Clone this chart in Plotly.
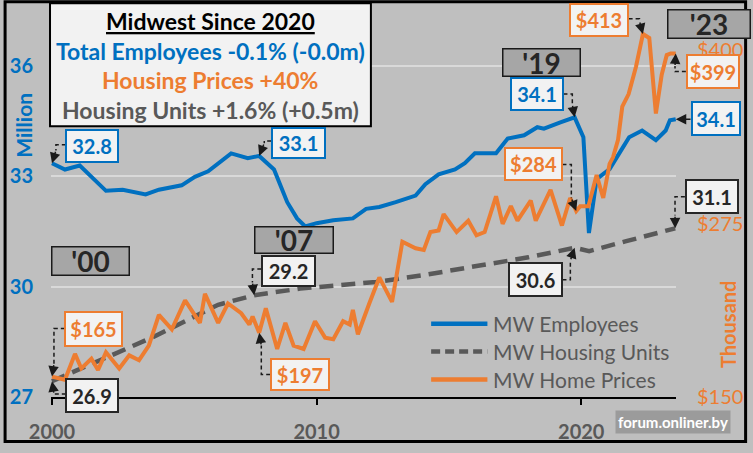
import plotly.graph_objects as go

# ---------------- data ----------------
emp_x = [2000.0, 2000.49, 2001.05, 2002.04, 2002.67, 2003.54, 2004.04, 2004.9, 2005.4, 2005.9,
         2006.77, 2007.4, 2007.83, 2008.39, 2008.89, 2009.26, 2009.57, 2010.0, 2010.63, 2011.37,
         2011.87, 2012.37, 2012.99, 2013.74, 2014.11, 2014.61, 2015.23, 2015.6, 2015.98, 2016.78,
         2017.22, 2017.84, 2018.34, 2018.59, 2019.21, 2019.75, 2020.08, 2020.29, 2020.58, 2021.07,
         2021.58, 2021.81, 2022.3, 2022.82, 2023.19, 2023.35, 2023.57]
emp_y = [32.86, 32.69, 32.80, 32.11, 32.14, 32.01, 32.14, 32.26, 32.49, 32.64,
         33.13, 33.00, 33.06, 32.69, 31.80, 31.36, 31.14, 31.23, 31.31, 31.36,
         31.62, 31.67, 31.80, 31.98, 32.29, 32.56, 32.69, 32.86, 33.13, 33.13,
         33.53, 33.62, 33.84, 33.80, 33.97, 34.11, 33.57, 30.96, 32.43, 32.70,
         33.30, 33.57, 33.75, 33.49, 33.75, 34.03, 34.06]

units_x = [2000.0, 2002.3, 2003.79, 2005.16, 2006.28, 2007.64, 2009.38, 2012.25, 2014.0,
           2016.1, 2018.0, 2019.75, 2020.3, 2021.7, 2023.55]
units_y = [26.93, 27.64, 28.12, 28.61, 29.01, 29.27, 29.45, 29.63, 29.81,
           30.07, 30.30, 30.56, 30.47, 30.74, 31.09]

price_x = [2000.0, 2000.49, 2000.87, 2001.11, 2001.49, 2001.74, 2002.04, 2002.54, 2002.92, 2003.29,
           2003.66, 2004.04, 2004.53, 2005.03, 2005.59, 2005.78, 2006.28, 2006.65, 2007.15, 2007.46,
           2007.58, 2007.83, 2008.08, 2008.51, 2008.82, 2009.13, 2009.51, 2009.94, 2010.32, 2010.63,
           2011.0, 2011.25, 2011.37, 2011.56, 2011.99, 2012.37, 2012.85, 2013.24, 2013.74, 2014.05,
           2014.3, 2014.61, 2014.8, 2015.29, 2015.73, 2016.04, 2016.35, 2016.78, 2017.03, 2017.34,
           2017.59, 2018.09, 2018.28, 2018.84, 2019.27, 2019.58, 2019.81, 2019.96, 2020.27, 2020.58,
           2020.83, 2021.07, 2021.2, 2021.39, 2021.55, 2021.79, 2022.07, 2022.33, 2022.57, 2022.82,
           2023.04, 2023.23, 2023.38, 2023.57]
price_y = [164.7, 162.4, 181.1, 170.6, 177.6, 169.5, 182.3, 170.6, 180.0, 176.5,
           187.0, 209.2, 198.7, 219.7, 203.4, 224.4, 203.4, 217.4, 210.4, 202.2,
           208.1, 196.3, 213.9, 184.6, 203.4, 187.0, 184.6, 204.6, 192.8, 191.6,
           204.6, 202.2, 212.7, 195.2, 217.4, 236.2, 218.6, 261.9, 257.2, 256.0,
           268.9, 270.1, 281.8, 268.9, 277.1, 266.6, 268.9, 294.7, 274.8, 287.6,
           277.1, 291.6, 277.1, 299.4, 273.6, 293.5, 284.1, 287.6, 287.6, 310.1,
           293.5, 318.1, 322.8, 335.4, 359.3, 368.4, 388.3, 411.7, 408.8, 354.4,
           382.4, 396.5, 397.7, 397.7]

series_names = ["MW Employees", "MW Housing Units", "MW Home Prices"]
left_tickvals = [26.5, 29.5, 32.5, 35.5]
left_ticktext = ["27", "30", "33", "36"]
right_tickvals = [150, 275, 400]
right_ticktext = ["$150", "$275", "$400"]
x_tickvals = [2000, 2010, 2020]

title_lines = ["<u>Midwest Since 2020</u>",
               "Total Employees -0.1% (-0.0m)",
               "Housing Prices +40%",
               "Housing Units +1.6% (+0.5m)"]

# ---------------- style ----------------
BLUE = "#0070C0"
ORANGE = "#ED7D31"
GRAY = "#595959"
DARK = "#262626"
BG = "#BFBFBF"
BOXBG = "#F2F2F2"
FONT = "Lato"

W, H = 753, 453
L, R, T, B = 48, 72, 10, 47
PW, PH = W - L - R, H - T - B
XR = [1999.963, 2023.58]
YL = [26.5, 37.03]
YR = [150, 429]


def fx(px):
    return (px - L) / PW


def fy(py):
    return (H - B - py) / PH


def xpix(v):
    return L + (v - XR[0]) / (XR[1] - XR[0]) * PW


def ypix(v, rng):
    return H - B - (v - rng[0]) / (rng[1] - rng[0]) * PH


fig = go.Figure()
fig.add_trace(go.Scatter(x=emp_x, y=emp_y, mode="lines", name=series_names[0],
                         line=dict(color=BLUE, width=4), showlegend=False))
fig.add_trace(go.Scatter(x=units_x, y=units_y, mode="lines", name=series_names[1],
                         line=dict(color=GRAY, width=4.5, dash="14px,8px"), showlegend=False))
fig.add_trace(go.Scatter(x=price_x, y=price_y, mode="lines", name=series_names[2], yaxis="y2",
                         line=dict(color=ORANGE, width=4), showlegend=False))

shapes = []
annotations = []

# outer frame
shapes.append(dict(type="rect", xref="paper", yref="paper", x0=fx(1.5), x1=fx(751.5),
                   y0=fy(1.5), y1=fy(451.5), line=dict(color="black", width=3), layer="above"))

# title box
shapes.append(dict(type="rect", xref="paper", yref="paper", x0=fx(47), x1=fx(372),
                   y0=fy(129), y1=fy(3), line=dict(color="black", width=2),
                   fillcolor=BOXBG, layer="above"))
title_colors = ["black", BLUE, ORANGE, GRAY]
title_ys = [21, 52, 82, 112]
for txt, col, yy in zip(title_lines, title_colors, title_ys):
    annotations.append(dict(text=txt, xref="paper", yref="paper", x=fx(209.5), y=fy(yy),
                            xanchor="center", yanchor="middle", showarrow=False,
                            font=dict(family=FONT, size=23, color=col, weight="bold")))

# axis titles
annotations.append(dict(text="Million", xref="paper", yref="paper", x=fx(20), y=fy(128),
                        textangle=-90, showarrow=False, xanchor="center", yanchor="middle",
                        font=dict(family=FONT, size=21, color=BLUE, weight="bold")))
annotations.append(dict(text="Thousand", xref="paper", yref="paper", x=fx(733), y=fy(332),
                        textangle=-90, showarrow=False, xanchor="center", yanchor="middle",
                        font=dict(family=FONT, size=20, color=ORANGE, weight="bold")))

# year tags
for txt, cx, cy, w, h in [("'00", 87.5, 267, 79, 30), ("'07", 294, 245.5, 80, 28),
                          ("'19", 544.5, 63.5, 79, 29), ("'23", 714, 24, 84, 30)]:
    annotations.append(dict(text=txt, xref="paper", yref="paper", x=fx(cx), y=fy(cy),
                            xanchor="center", yanchor="middle", showarrow=False,
                            width=w - 3, height=h - 3, borderpad=0, borderwidth=1.5,
                            bordercolor="#1a1a1a", bgcolor="#A6A6A6",
                            font=dict(family=FONT, size=28, color=DARK, weight="bold")))

# callouts: text, colour, box centre, box size, series, point x, edge point, corner x, arrow dir
series = {"emp": (emp_x, emp_y, "y", YL), "units": (units_x, units_y, "y", YL),
          "price": (price_x, price_y, "y2", YR)}
callouts = [
    ("32.8", BLUE, (90, 149), (54, 34), "emp", emp_x[0], (63, 148), 53, -1),
    ("33.1", BLUE, (298.5, 146), (55, 32), "emp", 2007.83, (271, 144), 264, -1),
    ("29.2", DARK, (288.5, 277), (55, 32), "units", 2007.64, (261, 275), 252, -1),
    ("$165", ORANGE, (91.5, 336), (59, 36), "price", price_x[0], (62, 336), 51, -1),
    ("26.9", DARK, (90, 404.5), (54, 35), "units", units_x[0], (63, 403), 51, 1),
    ("$197", ORANGE, (300, 382.5), (60, 33), "price", 2007.83, (270, 383), 261, 1),
    ("34.1", BLUE, (540, 96), (54, 34), "emp", 2019.75, (567, 96), 576, -1),
    ("$284", ORANGE, (536.5, 168), (59, 34), "price", 2019.81, (566, 168), 575, -1),
    ("30.6", DARK, (538.5, 285.5), (55, 35), "units", 2019.75, (566, 286), 574, 1),
    ("$413", ORANGE, (603, 20), (60, 34), "price", 2022.33, (633, 19), 644, -1),
    ("$399", ORANGE, (718, 72.5), (54, 35), "price", price_x[-1], (691, 73), 680, 1),
    ("34.1", BLUE, (722, 121.5), (50, 35), "emp", emp_x[-1], None, None, 0),
    ("31.1", DARK, (717, 200.5), (54, 35), "units", units_x[-1], (690, 201), 680, -1),
]

for txt, col, (cx, cy), (w, h), sk, xv, edge, cornx, d in callouts:
    sx, sy, yref, rng = series[sk]
    yv = sy[sx.index(xv)]
    annotations.append(dict(text=txt, xref="paper", yref="paper", x=fx(cx), y=fy(cy),
                            xanchor="center", yanchor="middle", showarrow=False,
                            width=w - 4, height=h - 4, borderpad=0, borderwidth=2,
                            bordercolor=col, bgcolor=BOXBG,
                            font=dict(family=FONT, size=20, color=col, weight="bold")))
    tx, ty = xpix(xv), ypix(yv, rng)
    if d == 0:
        ax, ay = cx - w / 2 - tx, 0
    else:
        tail_y = ty + 13 * d
        ex, ey = edge
        shapes.append(dict(type="path", xref="paper", yref="paper",
                           path=f"M{fx(ex)},{fy(ey)} L{fx(cornx)},{fy(ey)} L{fx(cornx)},{fy(tail_y)}",
                           line=dict(color="#1a1a1a", width=1.5, dash="4px,3px"), layer="above"))
        ax, ay = cornx - tx, tail_y - ty
    annotations.append(dict(text="", x=xv, y=yv, xref="x", yref=yref, ax=ax, ay=ay,
                            axref="pixel", ayref="pixel", showarrow=True, arrowhead=2,
                            arrowsize=1.4, arrowwidth=1.5, arrowcolor="#1a1a1a", standoff=0))

# legend (drawn manually to match the long line samples)
leg_ys = [331, 359.5, 388]
leg_styles = [dict(color=BLUE, width=4.5), dict(color=GRAY, width=4.5, dash="9px,5px"),
              dict(color=ORANGE, width=4.5)]
for name, yy, st in zip(series_names, leg_ys, leg_styles):
    shapes.append(dict(type="line", xref="paper", yref="paper", x0=fx(433), x1=fx(490),
                       y0=fy(yy), y1=fy(yy), line=st))
    annotations.append(dict(text=name, xref="paper", yref="paper", x=fx(494), y=fy(yy),
                            xanchor="left", yanchor="middle", showarrow=False,
                            font=dict(family=FONT, size=21, color=GRAY)))

# watermark
annotations.append(dict(text="forum.onliner.by", xref="paper", yref="paper", x=fx(677.5),
                        y=fy(432), xanchor="center", yanchor="middle", showarrow=False,
                        bgcolor="rgba(110,110,110,0.45)", borderpad=2,
                        font=dict(family=FONT, size=15, color="white", weight="bold")))

fig.update_layout(
    width=W, height=H,
    margin=dict(l=L, r=R, t=T, b=B, pad=0),
    paper_bgcolor=BG, plot_bgcolor=BG,
    showlegend=False,
    xaxis=dict(range=XR, tickvals=x_tickvals, showgrid=False, zeroline=False,
               showline=True, linecolor="black", linewidth=2,
               ticks="outside", ticklen=6, tickwidth=2, tickcolor="black",
               ticklabelstandoff=10,
               tickfont=dict(family=FONT, size=20, color=GRAY, weight="bold")),
    yaxis=dict(range=YL, tickvals=left_tickvals, ticktext=left_ticktext,
               showgrid=True, gridcolor="#D9D9D9", gridwidth=2, zeroline=False,
               showline=False, ticks="", ticklabelstandoff=17,
               tickfont=dict(family=FONT, size=20, color=BLUE, weight="bold")),
    yaxis2=dict(range=YR, tickvals=right_tickvals, ticktext=right_ticktext, overlaying="y",
                side="right", showgrid=False, zeroline=False, showline=False, ticks="",
                ticklabelstandoff=20,
                tickfont=dict(family=FONT, size=20, color=ORANGE)),
    shapes=shapes,
    annotations=annotations,
)

fig.write_html("out.html")
